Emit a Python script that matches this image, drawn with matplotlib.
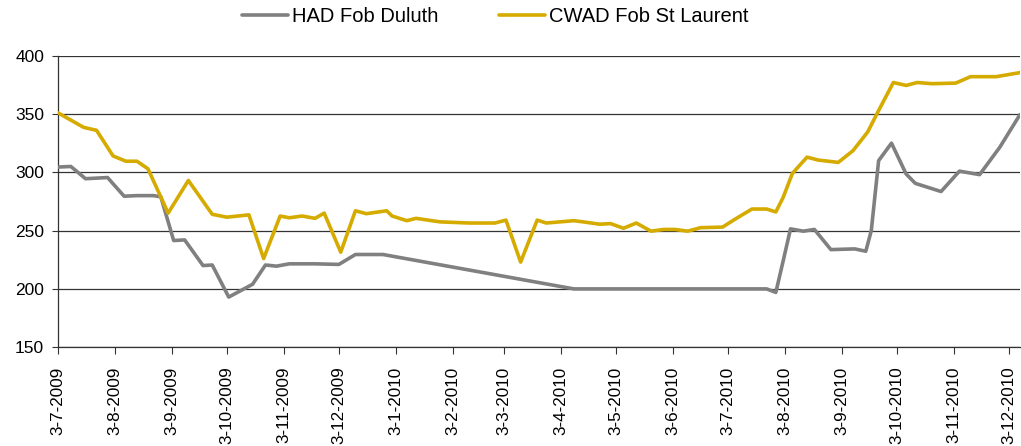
import matplotlib
matplotlib.use("Agg")
import matplotlib.pyplot as plt
import matplotlib.dates as mdates
import pandas as pd

plt.rcParams['font.family'] = ['Liberation Sans', 'DejaVu Sans']

had_dates = ["2009-07-03", "2009-07-10", "2009-07-18", "2009-07-30", "2009-08-08", "2009-08-15",
             "2009-08-24", "2009-08-28", "2009-09-04", "2009-09-10", "2009-09-20", "2009-09-25",
             "2009-10-04", "2009-10-17", "2009-10-24", "2009-10-30", "2009-11-06", "2009-11-20",
             "2009-12-03", "2009-12-12", "2009-12-27", "2010-04-10", "2010-07-24", "2010-07-29",
             "2010-08-02", "2010-08-06", "2010-08-13", "2010-08-19", "2010-08-28", "2010-09-10",
             "2010-09-16", "2010-09-19", "2010-09-23", "2010-09-30", "2010-10-08", "2010-10-13",
             "2010-10-27", "2010-11-06", "2010-11-17", "2010-11-28", "2010-12-09"]
had_values = [304.5, 305, 294.5, 295.5, 279.5, 280,
              280, 279, 241.5, 242, 220, 220.5,
              193, 204, 220.5, 219.5, 221.5, 221.5,
              221, 229.5, 229.5, 200, 200, 197,
              224, 251.5, 249.5, 251, 233.7, 234.3,
              232.3, 250, 310, 325, 298.5, 290.5,
              283.5, 301, 298, 321.5, 349.5]

cwad_dates = ["2009-07-03", "2009-07-17", "2009-07-24", "2009-08-02", "2009-08-09", "2009-08-15",
              "2009-08-21", "2009-09-01", "2009-09-12", "2009-09-25", "2009-10-03", "2009-10-15",
              "2009-10-23", "2009-11-01", "2009-11-06", "2009-11-13", "2009-11-20", "2009-11-25",
              "2009-12-04", "2009-12-12", "2009-12-18", "2009-12-29", "2010-01-01", "2010-01-09",
              "2010-01-14", "2010-01-27", "2010-02-12", "2010-02-26", "2010-03-04", "2010-03-12",
              "2010-03-21", "2010-03-26", "2010-04-10", "2010-04-15", "2010-04-24", "2010-04-30",
              "2010-05-07", "2010-05-14", "2010-05-22", "2010-05-29", "2010-06-04", "2010-06-11",
              "2010-06-18", "2010-06-30", "2010-07-07", "2010-07-16", "2010-07-24", "2010-07-29",
              "2010-08-02", "2010-08-07", "2010-08-15", "2010-08-21", "2010-09-01", "2010-09-09",
              "2010-09-17", "2010-09-23", "2010-10-01", "2010-10-08", "2010-10-14", "2010-10-22",
              "2010-11-04", "2010-11-12", "2010-11-26", "2010-12-09"]
cwad_values = [351, 338.5, 336, 314, 309.5, 309.5,
               303, 265, 293, 264, 261.5, 263.5,
               226, 262.5, 261, 262.5, 260.5, 265,
               231.5, 267, 264.5, 267, 262.5, 258.5,
               260.5, 257.5, 256.5, 256.5, 259, 223,
               259, 256.5, 258.5, 257.5, 255.5, 256,
               252, 256.5, 249.5, 251, 251, 249.5,
               252.5, 253, 260, 268.5, 268.5, 266,
               278.5, 299, 313, 310.5, 308.5, 318.5,
               334.5, 353, 377, 374.5, 377, 376,
               376.5, 382, 382, 385.5]

tick_dates = ["2009-07-03", "2009-08-03", "2009-09-03", "2009-10-03", "2009-11-03", "2009-12-03",
              "2010-01-03", "2010-02-03", "2010-03-03", "2010-04-03", "2010-05-03", "2010-06-03",
              "2010-07-03", "2010-08-03", "2010-09-03", "2010-10-03", "2010-11-03", "2010-12-03"]
tick_labels = ["3-7-2009", "3-8-2009", "3-9-2009", "3-10-2009", "3-11-2009", "3-12-2009",
               "3-1-2010", "3-2-2010", "3-3-2010", "3-4-2010", "3-5-2010", "3-6-2010",
               "3-7-2010", "3-8-2010", "3-9-2010", "3-10-2010", "3-11-2010", "3-12-2010"]
y_ticks = [150, 200, 250, 300, 350, 400]

fig = plt.figure(figsize=(10.21, 4.46), dpi=100)
ax = fig.add_axes([58 / 1021, 1 - 347.2 / 446, (1020 - 58) / 1021, (347.2 - 55.7) / 446])

ax.plot(pd.to_datetime(had_dates), had_values, color='#808080', lw=2.6,
        solid_joinstyle='round', solid_capstyle='round', label='HAD Fob Duluth', zorder=3)
ax.plot(pd.to_datetime(cwad_dates), cwad_values, color='#D6AB00', lw=2.6,
        solid_joinstyle='round', solid_capstyle='round', label='CWAD Fob St Laurent', zorder=4)

ax.set_ylim(150, 400)
ax.set_yticks(y_ticks)
ax.set_xlim(pd.Timestamp("2009-07-03"), pd.Timestamp("2010-12-09"))
ax.set_xticks(pd.to_datetime(tick_dates))
ax.set_xticklabels(tick_labels, rotation=90)

ax.yaxis.grid(True, color='#333333', lw=0.9)
ax.set_axisbelow(True)
for s in ['top', 'right']:
    ax.spines[s].set_visible(False)
for s in ['left', 'bottom']:
    ax.spines[s].set_color('#333333')
    ax.spines[s].set_linewidth(0.9)
ax.tick_params(axis='y', length=4, pad=6, labelsize=12.5, color='#333333')
ax.tick_params(axis='x', length=5, pad=9, labelsize=12.3, color='#333333')

fig.legend(loc='center', bbox_to_anchor=(495 / 1021, 1 - 17 / 446), ncol=2, frameon=False,
           fontsize=14.5, handlelength=2.3, handletextpad=0.2, columnspacing=3.0)

fig.savefig("out.png", dpi=100)
